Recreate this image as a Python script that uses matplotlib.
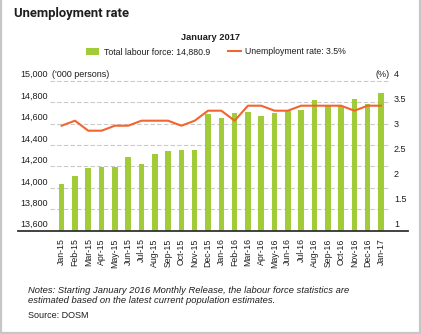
import matplotlib
matplotlib.use("Agg")
import matplotlib.pyplot as plt
import matplotlib.transforms as mtransforms
from matplotlib.patches import Patch
from matplotlib.lines import Line2D

plt.rcParams["font.family"] = ["Liberation Sans", "DejaVu Sans"]

# ---- data -------------------------------------------------------------
months = ["Jan-15", "Feb-15", "Mar-15", "Apr-15", "May-15", "Jun-15", "Jul-15",
          "Aug-15", "Sep-15", "Oct-15", "Nov-15", "Dec-15", "Jan-16", "Feb-16",
          "Mar-16", "Apr-16", "May-16", "Jun-16", "Jul-16", "Aug-16", "Sep-16",
          "Oct-16", "Nov-16", "Dec-16", "Jan-17"]
labour_force = [14040, 14115, 14185, 14193, 14197, 14285, 14220, 14317, 14342,
                14357, 14354, 14688, 14651, 14701, 14710, 14670, 14701, 14718,
                14726, 14820, 14766, 14766, 14826, 14783, 14880.9]
unemployment_rate = [3.1, 3.2, 3.0, 3.0, 3.1, 3.1, 3.2, 3.2, 3.2, 3.1, 3.2, 3.4,
                     3.4, 3.2, 3.5, 3.5, 3.4, 3.4, 3.5, 3.5, 3.5, 3.5, 3.4, 3.5, 3.5]
left_ticks = [13600, 13800, 14000, 14200, 14400, 14600, 14800, 15000]
right_ticks = [1, 1.5, 2, 2.5, 3, 3.5, 4]
right_tick_labels = ["1", "1.5", "2", "2.5", "3", "3.5", "4"]

GREEN = "#a2cb3a"
ORANGE = "#f2652f"
TEXT = "#1e1e1e"
GRID = "#cacaca"

W, H = 421, 334
fig = plt.figure(figsize=(W / 100, H / 100), dpi=100)
fig.patch.set_facecolor("white")


def fx(px):
    return px / W


def fy(py):
    return 1 - py / H


# ---- plot area ----------------------------------------------------------
ax = fig.add_axes([fx(18), fy(230.7), fx(408) - fx(18), fy(80.7) - fy(230.7)])
xs = list(range(len(months)))
ax.bar(xs, labour_force, width=0.42, color=GREEN, zorder=2)
ax.set_ylim(left_ticks[0], left_ticks[-1])
ax.set_xlim(-3.28, 26.03)
ax.hlines(left_ticks[1:], -0.88, 24.53, colors=GRID, linestyles=(0, (4, 2)),
          lw=0.8, zorder=1, clip_on=False)
for side in ("top", "left", "right"):
    ax.spines[side].set_visible(False)
ax.spines["bottom"].set_color("#333333")
ax.spines["bottom"].set_linewidth(1.3)
ax.set_yticks([])
ax.set_xticks(xs)
ax.set_xticklabels(months, rotation=90, fontsize=6.3, color=TEXT)
ax.tick_params(axis="x", length=0, pad=5.5)

ax2 = ax.twinx()
ax2.set_ylim(right_ticks[0], right_ticks[-1])
ax2.plot(xs, unemployment_rate, color=ORANGE, lw=1.5, zorder=3)
ax2.set_yticks([])
for side in ("top", "left", "right", "bottom"):
    ax2.spines[side].set_visible(False)

# ---- axis value labels (sit just above their gridlines) -------------------
lift = mtransforms.ScaledTranslation(0, 0.06, fig.dpi_scale_trans)
trans_l = mtransforms.blended_transform_factory(fig.transFigure, ax.transData) + lift
trans_r = mtransforms.blended_transform_factory(fig.transFigure, ax2.transData) + lift
for v in left_ticks:
    ax.text(fx(47.7), v, f"{v:,}", transform=trans_l, ha="right", va="center",
            fontsize=6.5, color=TEXT, clip_on=False)
for v, lab in zip(right_ticks, right_tick_labels):
    ax2.text(fx(394), v, lab, transform=trans_r, ha="left", va="center",
             fontsize=6.5, color=TEXT, clip_on=False)
ax.text(fx(51.5), left_ticks[-1], "('000 persons)", transform=trans_l, ha="left",
        va="center", fontsize=6.5, color=TEXT, clip_on=False)
ax2.text(fx(390), right_ticks[-1], "(%)", transform=trans_r, ha="right",
         va="center", fontsize=6.5, color=TEXT, clip_on=False)

# ---- titles and legend ----------------------------------------------------
fig.text(fx(14.5), fy(14), "Unemployment rate", fontsize=9.4, fontweight="bold",
         family=["Roboto", "Liberation Sans", "DejaVu Sans"],
         ha="left", va="center", color=TEXT)
fig.text(fx(210.3), fy(37.3), "January 2017", fontsize=6.7, fontweight="bold",
         ha="center", va="center", color=TEXT)

handles = [Patch(facecolor=GREEN, edgecolor="none"),
           Line2D([], [], color=ORANGE, lw=1.5)]
labels = ["Total labour force: 14,880.9", "Unemployment rate: 3.5%"]
fig.legend(handles, labels, loc="center", bbox_to_anchor=(fx(216.2), fy(52)),
           ncol=2, frameon=False, fontsize=6.3, handlelength=1.44,
           handleheight=0.85, handletextpad=0.54, columnspacing=2.06,
           labelcolor=TEXT)

# ---- notes --------------------------------------------------------------
fig.text(fx(28.3), fy(290.7),
         "Notes: Starting January 2016 Monthly Release, the labour force statistics are",
         fontsize=6.75, style="italic", ha="left", va="center", color=TEXT)
fig.text(fx(28.3), fy(300.7),
         "estimated based on the latest current population estimates.",
         fontsize=6.75, style="italic", ha="left", va="center", color=TEXT)
fig.text(fx(28.3), fy(315), "Source: DOSM", fontsize=6.5, ha="left",
         va="center", color=TEXT)

# ---- frame ----------------------------------------------------------------
frame_kw = dict(transform=fig.transFigure, color="#c6c6c6", lw=1.6)
fig.add_artist(Line2D([fx(0.8), fx(0.8)], [0, 1], **frame_kw))
fig.add_artist(Line2D([fx(420.2), fx(420.2)], [0, 1], **frame_kw))
fig.add_artist(Line2D([0, 1], [fy(333.2), fy(333.2)], **frame_kw))

fig.savefig("out.png", dpi=100, facecolor="white")
